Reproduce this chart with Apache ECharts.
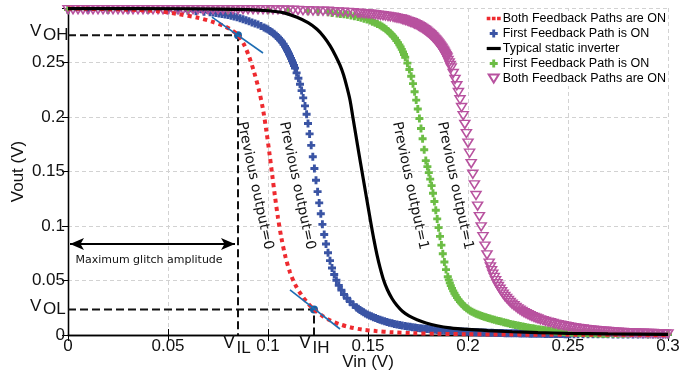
<!DOCTYPE html>
<html>
<head>
<meta charset="utf-8">
<script src="https://cdn.jsdelivr.net/npm/echarts@6/dist/echarts.min.js"></script>
<style>
html,body{margin:0;padding:0;background:#fff}
#chart{width:694px;height:375px}
</style>
</head>
<body>
<div id="chart"></div>
<script>
var FONT = "'Liberation Sans', Arial, sans-serif";
var NOTE_FONT = "'DejaVu Sans', sans-serif";

// thresholds
var VIL = 0.085, VIH = 0.123, VOH = 0.275, VOL = 0.0235;
var ARROW_Y = 0.0835;

var seriesNames = ['bothOn0', 'firstOn0', 'static', 'firstOn1', 'bothOn1'];
var legendText = ['Both Feedback Paths are ON', 'First Feedback Path is ON', 'Typical static inverter',
    'First Feedback Path is ON', 'Both Feedback Paths are ON'];

var bothOn0 = [[0,0.2995],[0.03,0.2985],[0.045,0.297],[0.055,0.2945],[0.065,0.291],[0.072,0.2875],[0.078,0.2835],
    [0.082,0.2795],[0.085,0.275],[0.088,0.2665],[0.0905,0.2555],[0.093,0.2415],[0.0955,0.2245],[0.0975,0.207],
    [0.0992,0.187],[0.1007,0.167],[0.1021,0.147],[0.1035,0.127],[0.105,0.1075],[0.1067,0.089],[0.1087,0.072],
    [0.111,0.0575],[0.1138,0.0455],[0.117,0.036],[0.12,0.029],[0.123,0.0235],[0.127,0.0178],[0.131,0.0135],
    [0.136,0.0098],[0.141,0.0071],[0.147,0.005],[0.154,0.0036],[0.162,0.0025],[0.172,0.0017],[0.185,0.0011],
    [0.2,0.0007],[0.22,0.0004],[0.25,0.0002],[0.3,0.0001]];

var firstOn0 = [[0,0.2985],[0.01,0.2985],[0.02,0.2985],[0.03,0.2985],[0.04,0.2985],[0.05,0.298],[0.055,0.298],
    [0.06,0.2975],[0.064,0.297],[0.068,0.2965],[0.071,0.296],[0.0725,0.2958],[0.074,0.2955],[0.0755,0.295],
    [0.077,0.2945],[0.0785,0.294],[0.08,0.2935],[0.0815,0.2929],[0.083,0.2922],[0.0845,0.2914],[0.086,0.2905],
    [0.0875,0.2897],[0.089,0.2888],[0.0905,0.2878],[0.092,0.2868],[0.0935,0.2858],[0.095,0.2848],[0.0965,0.2835],
    [0.098,0.2822],[0.099,0.2812],[0.1,0.2802],[0.101,0.279],[0.102,0.2778],[0.103,0.2763],[0.104,0.2748],
    [0.1048,0.2734],[0.1055,0.272],[0.1063,0.2704],[0.107,0.2688],[0.1078,0.2668],[0.1085,0.2648],[0.109,0.2632],
    [0.1095,0.2615],[0.11,0.2597],[0.1105,0.2578],[0.111,0.2558],[0.1115,0.2538],[0.112,0.2517],[0.1125,0.2495],
    [0.113,0.2472],[0.1135,0.2448],[0.1143,0.2405],[0.1152,0.2355],[0.116,0.23],[0.1168,0.2242],
    [0.1176,0.2175],[0.1185,0.2102],[0.1193,0.2025],[0.12,0.194],[0.1208,0.1845],[0.1216,0.174],[0.1224,0.1635],
    [0.1232,0.1528],[0.124,0.142],[0.1248,0.1315],[0.1256,0.1212],[0.1264,0.1112],[0.1272,0.1015],[0.1281,0.0922],
    [0.129,0.0835],[0.13,0.0755],[0.131,0.0682],[0.132,0.0615],[0.1331,0.0555],[0.1342,0.0502],[0.1354,0.0455],
    [0.1367,0.0412],[0.138,0.0372],[0.1395,0.0337],[0.141,0.0306],[0.1426,0.0278],[0.1443,0.0252],[0.1452,0.024],
    [0.146,0.0229],[0.1469,0.0218],[0.1478,0.0208],[0.1487,0.0198],[0.1497,0.0189],[0.1507,0.018],[0.1517,0.0171],
    [0.1527,0.0163],[0.1538,0.0155],[0.1549,0.0147],[0.156,0.014],[0.1571,0.0133],[0.1583,0.0126],[0.1595,0.0119],
    [0.1607,0.0113],[0.162,0.0107],[0.1632,0.0102],[0.1645,0.0097],[0.1658,0.0092],[0.1671,0.0087],[0.1685,0.0083],
    [0.1697,0.0079],[0.171,0.0075],[0.1722,0.0071],[0.1735,0.0068],[0.1747,0.0065],[0.176,0.0062],[0.1772,0.0059],
    [0.1785,0.0057],[0.1797,0.0054],[0.181,0.0052],[0.1822,0.005],[0.1835,0.0048],[0.1847,0.0046],[0.186,0.0044],
    [0.1872,0.0042],[0.1885,0.0041],[0.1897,0.0039],[0.191,0.0038],[0.1922,0.0036],[0.1935,0.0035],[0.1947,0.0033],
    [0.196,0.0032],[0.1972,0.0031],[0.1985,0.003],[0.1997,0.0029],[0.201,0.0028],[0.2022,0.0027],[0.2035,0.0026],
    [0.2047,0.0025],[0.206,0.0024],[0.2072,0.0023],[0.2085,0.0022],[0.2097,0.0021],[0.211,0.0021],[0.2122,0.002],
    [0.2135,0.0019],[0.2147,0.0019],[0.216,0.0018],[0.2172,0.0018],[0.2185,0.0017],[0.2197,0.0017],[0.221,0.0016],
    [0.2222,0.0016],[0.2235,0.0015],[0.2247,0.0015],[0.226,0.0014],[0.2272,0.0014],[0.2285,0.0013],[0.2297,0.0013],
    [0.231,0.0012],[0.2322,0.0012],[0.2335,0.0011],[0.2347,0.0011],[0.236,0.0011],[0.2372,0.0011],[0.2385,0.001],
    [0.2397,0.001],[0.241,0.001],[0.2422,0.001],[0.2435,0.0009],[0.2447,0.0009],[0.246,0.0009],[0.2472,0.0009],
    [0.2485,0.0008],[0.2497,0.0008],[0.251,0.0008],[0.253,0.0008],[0.255,0.0007],[0.2575,0.0007],[0.26,0.0007],
    [0.2625,0.0006],[0.265,0.0006],[0.2675,0.0006],[0.27,0.0006],[0.2725,0.0005],[0.275,0.0005],[0.2775,0.0005],
    [0.28,0.0005],[0.2825,0.0005],[0.285,0.0005],[0.2875,0.0004],[0.29,0.0004],[0.2925,0.0004],[0.295,0.0004],
    [0.2975,0.0004],[0.3,0.0004]];

var staticInv = [[0,0.2995],[0.06,0.2993],[0.09,0.2985],[0.1,0.2975],[0.108,0.2955],[0.1145,0.2915],[0.12,0.2865],
    [0.1245,0.2805],[0.128,0.2735],[0.131,0.2655],[0.1337,0.2565],[0.136,0.2475],[0.1378,0.2385],[0.1393,0.2285],
    [0.141,0.2156],[0.1425,0.199],[0.144,0.1825],[0.1455,0.166],[0.147,0.15],[0.1485,0.134],[0.15,0.118],
    [0.1515,0.102],[0.153,0.087],[0.1545,0.0735],[0.156,0.062],[0.1577,0.051],[0.1597,0.0415],[0.162,0.0335],
    [0.1645,0.027],[0.1672,0.0218],[0.1705,0.0175],[0.1745,0.014],[0.179,0.011],[0.1845,0.0085],[0.191,0.0066],
    [0.2,0.0051],[0.21,0.004],[0.222,0.003],[0.235,0.0022],[0.25,0.0015],[0.27,0.001],[0.3,0.0006]];

var firstOn1 = [[0,0.2985],[0.02,0.2985],[0.04,0.2985],[0.06,0.2985],[0.08,0.298],[0.1,0.298],[0.11,0.2975],
    [0.12,0.297],[0.125,0.2965],[0.13,0.296],[0.132,0.2955],[0.1345,0.295],[0.1362,0.2946],[0.138,0.2942],
    [0.1397,0.2937],[0.1415,0.2932],[0.1432,0.2925],[0.145,0.2918],[0.1465,0.291],[0.148,0.2902],[0.1495,0.2894],
    [0.151,0.2885],[0.1522,0.2875],[0.1535,0.2865],[0.1547,0.2854],[0.156,0.2842],[0.157,0.283],[0.158,0.2818],
    [0.159,0.2804],[0.16,0.279],[0.1609,0.2774],[0.1618,0.2758],[0.1626,0.274],[0.1635,0.2722],[0.1642,0.2702],
    [0.165,0.2682],[0.1657,0.2662],[0.1663,0.2642],[0.1669,0.262],[0.1675,0.2598],[0.168,0.2573],[0.1686,0.2548],
    [0.1697,0.2494],[0.1707,0.2436],[0.1716,0.2374],[0.1725,0.2306],[0.1733,0.2232],[0.1741,0.2155],[0.1749,0.2073],
    [0.1757,0.1986],[0.1765,0.1895],[0.1773,0.18],[0.1781,0.17],[0.1789,0.16],[0.1797,0.1545],[0.1804,0.149],
    [0.1811,0.143],[0.1818,0.137],[0.1825,0.13],[0.1832,0.1225],[0.1839,0.1145],[0.1846,0.1065],[0.1853,0.0985],
    [0.186,0.0905],[0.1867,0.0825],[0.1874,0.0745],[0.1882,0.067],[0.189,0.06],[0.1899,0.0535],[0.1904,0.0506],
    [0.1909,0.0478],[0.1914,0.0453],[0.192,0.0428],[0.1926,0.0405],[0.1932,0.0383],[0.1938,0.0363],[0.1945,0.0343],
    [0.1952,0.0324],[0.196,0.0306],[0.1968,0.029],[0.1976,0.0274],[0.1984,0.026],[0.1993,0.0246],[0.2002,0.0234],
    [0.2011,0.0223],[0.202,0.0213],[0.203,0.0204],[0.204,0.0196],[0.205,0.0188],[0.206,0.0181],[0.207,0.0174],
    [0.208,0.0168],[0.209,0.0162],[0.21,0.0156],[0.211,0.0151],[0.2121,0.0145],[0.2132,0.0139],[0.2143,0.0133],
    [0.2155,0.0128],[0.2166,0.0123],[0.2178,0.0118],[0.2189,0.0113],[0.22,0.0108],[0.2212,0.0102],[0.2225,0.0097],
    [0.2237,0.0092],[0.225,0.0087],[0.2262,0.0082],[0.2275,0.0078],[0.2287,0.0073],[0.23,0.0069],[0.2312,0.0065],
    [0.2325,0.0061],[0.2337,0.0057],[0.235,0.0053],[0.2362,0.005],[0.2375,0.0047],[0.2387,0.0044],[0.24,0.0041],
    [0.2412,0.0038],[0.2425,0.0036],[0.2437,0.0033],[0.245,0.0031],[0.2462,0.003],[0.2475,0.0028],[0.2487,0.0026],
    [0.25,0.0025],[0.2512,0.0023],[0.2525,0.0022],[0.2537,0.0021],[0.255,0.002],[0.2562,0.0019],[0.2575,0.0018],
    [0.2587,0.0017],[0.26,0.0016],[0.2612,0.0015],[0.2625,0.0015],[0.2637,0.0014],[0.265,0.0013],[0.2662,0.0013],
    [0.2675,0.0012],[0.2687,0.0012],[0.27,0.0011],[0.2725,0.0011],[0.275,0.001],[0.2775,0.001],[0.28,0.0009],
    [0.285,0.0009],[0.29,0.0008],[0.295,0.0008],[0.3,0.0007]];

var bothOn1 = [[0,0.2985],[0.0025,0.2985],[0.005,0.2985],[0.0075,0.2985],[0.01,0.2985],[0.0125,0.2985],
    [0.015,0.2985],[0.0175,0.2985],[0.02,0.2985],[0.0225,0.2985],[0.025,0.2985],[0.0275,0.2985],[0.03,0.2985],
    [0.0325,0.2985],[0.035,0.2985],[0.0375,0.2985],[0.04,0.2985],[0.0425,0.2985],[0.045,0.2985],[0.0475,0.2985],
    [0.05,0.2985],[0.0525,0.2985],[0.055,0.2985],[0.0575,0.2985],[0.06,0.2985],[0.0625,0.2985],[0.065,0.2985],
    [0.0675,0.2985],[0.07,0.2985],[0.0725,0.2985],[0.075,0.2985],[0.0775,0.2985],[0.08,0.2985],[0.0825,0.2985],
    [0.085,0.2985],[0.0875,0.2985],[0.09,0.2985],[0.0925,0.2985],[0.095,0.2985],[0.0975,0.2985],[0.1,0.2985],
    [0.1025,0.2983],[0.105,0.2983],[0.1075,0.2982],[0.11,0.298],[0.1125,0.2979],[0.115,0.2978],[0.1175,0.2976],
    [0.12,0.2975],[0.1225,0.2973],[0.125,0.2972],[0.1275,0.2971],[0.13,0.297],[0.1325,0.2967],[0.135,0.2964],
    [0.1375,0.2962],[0.14,0.296],[0.1425,0.2957],[0.145,0.2953],[0.1462,0.2951],[0.1475,0.2949],[0.1487,0.2947],
    [0.15,0.2945],[0.1512,0.2943],[0.1525,0.294],[0.1537,0.2938],[0.155,0.2935],[0.1562,0.2932],[0.1575,0.2929],
    [0.1587,0.2926],[0.16,0.2922],[0.1612,0.2919],[0.1625,0.2915],[0.1635,0.2911],[0.1645,0.2907],[0.1655,0.2903],
    [0.1665,0.2899],[0.1672,0.2895],[0.168,0.289],[0.1688,0.2885],[0.1697,0.288],[0.1705,0.2875],[0.1712,0.287],
    [0.172,0.2865],[0.1727,0.2859],[0.1733,0.2854],[0.174,0.2848],[0.1746,0.2842],[0.1753,0.2835],[0.1759,0.2829],
    [0.1765,0.2822],[0.1771,0.2815],[0.1776,0.2808],[0.1782,0.2801],[0.1787,0.2794],[0.1792,0.2787],[0.1797,0.2779],
    [0.1802,0.2772],[0.1807,0.2764],[0.1812,0.2756],[0.1816,0.2748],[0.1821,0.274],[0.1825,0.2732],[0.1829,0.2724],
    [0.1833,0.2715],[0.1837,0.2707],[0.1841,0.2698],[0.1845,0.2689],[0.1849,0.268],[0.1853,0.2671],[0.1856,0.2662],
    [0.186,0.2652],[0.1863,0.2643],[0.1867,0.2634],[0.187,0.2624],[0.1874,0.2614],[0.1877,0.2604],[0.188,0.2594],
    [0.1883,0.2584],[0.1886,0.2574],[0.1889,0.2563],[0.1892,0.2553],[0.1895,0.2542],[0.19,0.252],[0.1906,0.2497],
    [0.1911,0.2474],[0.1916,0.245],[0.1926,0.2399],[0.1935,0.2345],[0.1944,0.2287],[0.1952,0.2225],
    [0.196,0.2158],[0.1968,0.2087],[0.1976,0.2012],[0.1984,0.1932],[0.1992,0.1848],[0.2,0.176],[0.2008,0.1668],
    [0.2016,0.1572],[0.2024,0.1475],[0.2032,0.1378],[0.204,0.128],[0.2048,0.1182],[0.2057,0.1086],[0.2066,0.0992],
    [0.2075,0.0902],[0.2085,0.0816],[0.2095,0.0735],[0.2106,0.066],[0.2112,0.0625],[0.2118,0.0591],[0.2124,0.0559],
    [0.2131,0.0528],[0.2138,0.0499],[0.2145,0.0471],[0.2152,0.0445],[0.216,0.042],[0.2168,0.0397],[0.2176,0.0375],
    [0.2184,0.0354],[0.2193,0.0335],[0.2202,0.0317],[0.2211,0.0299],[0.222,0.0283],[0.223,0.0268],[0.224,0.0254],
    [0.225,0.024],[0.226,0.0228],[0.227,0.0216],[0.228,0.0205],[0.229,0.0195],[0.23,0.0186],[0.231,0.0177],
    [0.232,0.0169],[0.233,0.0161],[0.234,0.0154],[0.235,0.0147],[0.2362,0.0139],[0.2375,0.0132],[0.2387,0.0125],
    [0.24,0.0118],[0.2412,0.0112],[0.2425,0.0106],[0.2437,0.01],[0.245,0.0095],[0.2462,0.009],[0.2475,0.0085],
    [0.2487,0.008],[0.25,0.0076],[0.2512,0.0072],[0.2525,0.0068],[0.2537,0.0064],[0.255,0.0061],[0.2562,0.0058],
    [0.2575,0.0055],[0.2587,0.0052],[0.26,0.0049],[0.2612,0.0046],[0.2625,0.0044],[0.2637,0.0042],[0.265,0.004],
    [0.2662,0.0038],[0.2675,0.0036],[0.2687,0.0034],[0.27,0.0032],[0.2712,0.003],[0.2725,0.0029],[0.2737,0.0027],
    [0.275,0.0026],[0.2762,0.0024],[0.2775,0.0023],[0.2787,0.0022],[0.28,0.0021],[0.2812,0.002],[0.2825,0.0019],
    [0.2837,0.0018],[0.285,0.0017],[0.2862,0.0017],[0.2875,0.0016],[0.2887,0.0015],[0.29,0.0015],[0.2912,0.0014],
    [0.2925,0.0014],[0.2937,0.0013],[0.295,0.0013],[0.2962,0.0012],[0.2975,0.0012],[0.2987,0.0011],[0.3,0.0011]];

// tangent lines at the two unity-gain points
var tanHigh = [[0.072,0.2917],[0.0975,0.2587]];
var tanLow = [[0.111,0.0413],[0.136,0.0055]];

var notes = [
    {text: 'Previous output=0', x: 0.0935, y: 0.137},
    {text: 'Previous output=0', x: 0.1145, y: 0.137},
    {text: 'Previous output=1', x: 0.171, y: 0.137},
    {text: 'Previous output=1', x: 0.1935, y: 0.137}
];

var plusPath = 'path://M32,0H68V32H100V68H68V100H32V68H0V32H32Z';
var dashed = {color: '#111', width: 2, type: [8, 4]};

var chart = echarts.init(document.getElementById('chart'), null, {renderer: 'canvas'});

var option = {
    animation: false,
    backgroundColor: '#fff',
    grid: {left: 68, right: 26, top: 8, bottom: 40, containLabel: false, outerBoundsMode: 'none'},
    legend: {
        orient: 'vertical', right: 26, top: 11,
        itemWidth: 14, itemHeight: 8, itemGap: 2,
        padding: [1, 2, 1, 2],
        backgroundColor: '#fff',
        textStyle: {fontSize: 12.5, fontFamily: FONT, color: '#000', padding: [0, 0, 0, -3], lineHeight: 13},
        data: [
            {name: 'bothOn0', icon: 'path://M0,0H3.4V3.4H0ZM4.8,0H8.2V3.4H4.8ZM9.6,0H13V3.4H9.6Z'},
            {name: 'firstOn0'},
            {name: 'static', icon: 'path://M0,0H14V3.2H0Z'},
            {name: 'firstOn1'},
            {name: 'bothOn1', icon: 'path://M0,0H10L5,8Z'}
        ],
        formatter: function (name) { return legendText[seriesNames.indexOf(name)]; }
    },
    xAxis: [{
        type: 'value', min: 0, max: 0.3, interval: 0.05,
        name: 'Vin (V)', nameLocation: 'middle', nameGap: 19, nameMoveOverlap: false,
        nameTextStyle: {fontSize: 17, fontFamily: FONT, color: '#111'},
        axisLine: {lineStyle: {color: '#000', width: 1.3}},
        axisTick: {inside: true, length: 6, lineStyle: {color: '#000'}},
        axisLabel: {fontSize: 17, fontFamily: FONT, color: '#111', margin: 3},
        splitLine: {show: true, lineStyle: {color: '#d2d2d2', type: [4, 3]}}
    }, {
        type: 'value', min: 0, max: 0.3, interval: 0.05, position: 'top',
        axisLine: {show: true, lineStyle: {color: '#000', width: 1.3}},
        axisTick: {inside: true, length: 6, lineStyle: {color: '#000'}},
        axisLabel: {show: false}, splitLine: {show: false}
    }],
    yAxis: [{
        type: 'value', min: 0, max: 0.3, interval: 0.05,
        name: 'Vout (V)', nameLocation: 'middle', nameGap: 41, nameMoveOverlap: false,
        nameTextStyle: {fontSize: 17, fontFamily: FONT, color: '#111'},
        axisLine: {show: true, lineStyle: {color: '#000', width: 1.3}},
        axisTick: {show: true, length: 5, lineStyle: {color: '#000'}},
        axisLabel: {
            fontSize: 17, fontFamily: FONT, color: '#111', margin: 3,
            formatter: function (v) { return v >= 0.3 ? '' : String(v); }
        },
        splitLine: {show: true, lineStyle: {color: '#d2d2d2', type: [4, 3]}}
    }, {
        type: 'value', min: 0, max: 0.3, interval: 0.05, position: 'right',
        axisLine: {show: true, lineStyle: {color: '#000', width: 1.3}},
        axisTick: {show: true, inside: true, length: 6, lineStyle: {color: '#000'}},
        axisLabel: {show: false}, splitLine: {show: false}
    }],
    series: [
        {
            name: 'guides', type: 'line', data: [[0, VOH], [VIL, VOH], [VIL, 0]],
            symbol: 'none', lineStyle: dashed, z: 1,
            markLine: {
                silent: true, symbol: ['arrow', 'arrow'], symbolSize: [9, 14],
                label: {show: false},
                lineStyle: {color: '#000', width: 2, type: 'solid'},
                data: [[{coord: [0.001, ARROW_Y]}, {coord: [VIL - 0.0015, ARROW_Y]}]]
            }
        },
        {name: 'guides2', type: 'line', data: [[0, VOL], [VIH, VOL], [VIH, 0]], symbol: 'none', lineStyle: dashed, z: 1},
        {
            name: 'bothOn0', type: 'line', data: bothOn0, symbol: 'none', smooth: 0.3,
            itemStyle: {color: '#ee2a2f'},
            lineStyle: {color: '#ee2a2f', width: 4, type: [4, 4], cap: 'butt'}
        },
        {
            name: 'firstOn0', type: 'scatter', data: firstOn0, symbol: plusPath, symbolSize: 8, clip: false,
            itemStyle: {color: '#3a54a4', opacity: 1}
        },
        {
            name: 'static', type: 'line', data: staticInv, symbol: 'none', smooth: 0.3,
            itemStyle: {color: '#000'}, lineStyle: {color: '#000', width: 3.2}
        },
        {
            name: 'firstOn1', type: 'scatter', data: firstOn1, symbol: plusPath, symbolSize: 8, clip: false,
            itemStyle: {color: '#6cbd45', opacity: 1}
        },
        {
            name: 'bothOn1', type: 'scatter', data: bothOn1, symbol: 'triangle', symbolSize: [10, 8],
            symbolRotate: 180, clip: false,
            itemStyle: {color: 'rgba(255,255,255,0)', borderColor: '#b8529f', borderWidth: 1.5, opacity: 1}
        },
        {name: 'tanHigh', type: 'line', data: tanHigh, symbol: 'none', lineStyle: {color: '#1d6db3', width: 1.6}},
        {name: 'tanLow', type: 'line', data: tanLow, symbol: 'none', lineStyle: {color: '#1d6db3', width: 1.6}},
        {
            name: 'points', type: 'scatter', data: [[VIL, VOH], [VIH, VOL]], symbolSize: 8,
            itemStyle: {color: '#175fa3', opacity: 1}
        }
    ]
};
chart.setOption(option);

function toPx(x, y) {
    return chart.convertToPixel({gridIndex: 0}, [x, y]);
}

function textEl(x, y, text, size, align, family, extra) {
    var el = {
        type: 'text', x: x, y: y, silent: true, z: 100,
        style: {text: text, fontSize: size, fontFamily: family || FONT, fill: '#111', align: align, verticalAlign: 'middle'}
    };
    if (extra) {
        for (var k in extra) el[k] = extra[k];
    }
    return el;
}

var origin = toPx(0, 0);
var graphics = [];

// V_IL, V_IH under the x axis
[[VIL, 'IL'], [VIH, 'IH']].forEach(function (d) {
    var p = toPx(d[0], 0);
    graphics.push(textEl(p[0] - 15, origin[1] + 8.5, 'V', 18, 'left'));
    graphics.push(textEl(p[0] - 1.5, origin[1] + 13, d[1], 17, 'left'));
});

// V_OH, V_OL left of the y axis
[[VOH, 'OH'], [VOL, 'OL']].forEach(function (d) {
    var p = toPx(0, d[0]);
    graphics.push(textEl(origin[0] - 38, p[1] - 3.5, 'V', 17, 'left'));
    graphics.push(textEl(origin[0] - 25, p[1], d[1], 17, 'left'));
});

var ga = toPx(VIL / 2 - 0.002, ARROW_Y - 0.0145);
graphics.push(textEl(ga[0], ga[1], 'Maximum glitch amplitude', 11, 'center', NOTE_FONT, null));

notes.forEach(function (n) {
    var p = toPx(n.x, n.y);
    graphics.push(textEl(p[0], p[1], n.text, 14, 'center', NOTE_FONT, {rotation: -78 * Math.PI / 180}));
});

chart.setOption({graphic: graphics});
</script>
</body>
</html>
